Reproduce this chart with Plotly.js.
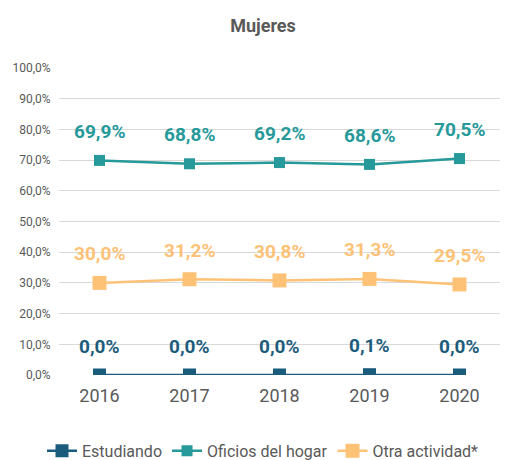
<!DOCTYPE html>
<html>
<head>
<meta charset="utf-8">
<script src="https://cdn.plot.ly/plotly-3.0.1.min.js"></script>
<style>html,body{margin:0;padding:0;background:#fff;}#chart{width:526px;height:460px;}</style>
</head>
<body>
<div id="chart"></div>
<script>
const years = ['2016', '2017', '2018', '2019', '2020'];
const estudiando = [0.0, 0.0, 0.0, 0.1, 0.0];
const oficios = [69.9, 68.8, 69.2, 68.6, 70.5];
const otra = [30.0, 31.2, 30.8, 31.3, 29.5];
const seriesNames = ['Estudiando', 'Oficios del hogar', 'Otra actividad*'];
const colors = ['#1b5c7c', '#26999a', '#fec277'];
const markerSizes = [13, 11, 14];

const FONT = 'Roboto, sans-serif';
const fmt = v => v.toFixed(1).replace('.', ',') + '%';
const allSeries = [estudiando, oficios, otra];

const traces = allSeries.map((vals, i) => ({
  type: 'scatter',
  mode: 'lines+markers',
  name: seriesNames[i],
  x: years,
  y: vals,
  line: {color: colors[i], width: 2.5},
  marker: {symbol: 'square', size: markerSizes[i], color: colors[i]},
  hoverinfo: 'skip'
}));

const annotations = [];
allSeries.forEach((vals, i) => {
  vals.forEach((v, j) => {
    annotations.push({
      x: j, y: v, xref: 'x', yref: 'y',
      text: '<b>' + fmt(v) + '</b>',
      showarrow: false, yshift: 29,
      font: {family: FONT, size: 19, color: colors[i]}
    });
  });
});

const layout = {
  width: 526, height: 460,
  paper_bgcolor: '#fff', plot_bgcolor: '#fff',
  margin: {l: 59, r: 26, t: 68, b: 85},
  separators: ',.',
  title: {text: '<b>Mujeres</b>', x: 0.5, xanchor: 'center', y: 0.945, yanchor: 'middle',
          font: {family: FONT, size: 18, color: '#595959'}},
  xaxis: {
    type: 'category', range: [-0.45, 4.45],
    showgrid: false, zeroline: false, showline: false,
    ticks: 'outside', ticklen: 4, tickcolor: 'rgba(0,0,0,0)',
    tickfont: {family: FONT, size: 18, color: '#595959'}
  },
  yaxis: {
    range: [0, 100], dtick: 10, tickformat: '.1f', ticksuffix: '%',
    showgrid: true, gridcolor: '#d9d9d9', gridwidth: 1,
    zeroline: false, showline: false,
    ticks: 'outside', ticklen: 5, tickcolor: 'rgba(0,0,0,0)',
    tickfont: {family: FONT, size: 12, color: '#595959'}
  },
  showlegend: true,
  legend: {
    orientation: 'h', x: 0.5, xanchor: 'center', xref: 'container',
    y: 0.02, yanchor: 'middle', yref: 'container',
    font: {family: FONT, size: 16, color: '#595959'}
  },
  annotations: annotations
};

Plotly.newPlot('chart', traces, layout, {displayModeBar: false});
</script>
</body>
</html>
